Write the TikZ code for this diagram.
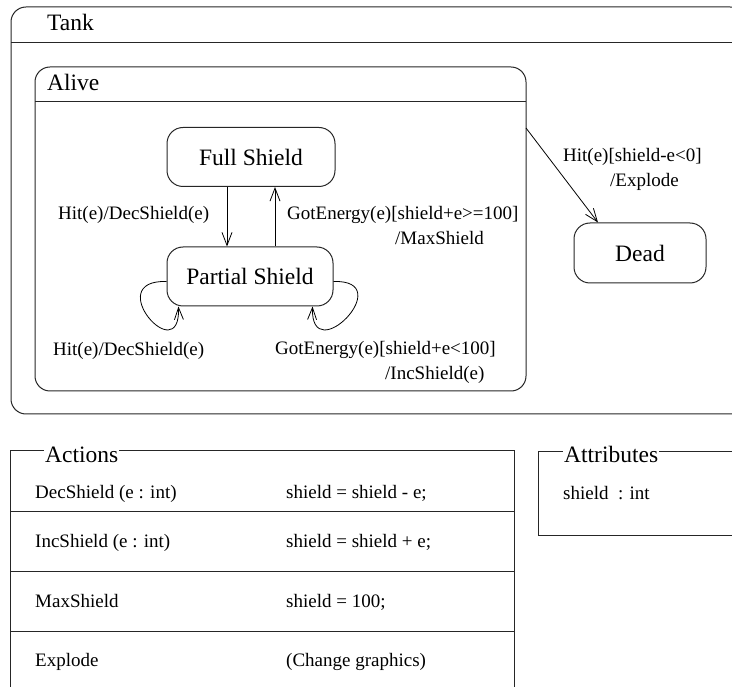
\documentclass[tikz,border=0pt]{standalone}
\usepackage{fontspec}
\setmainfont{Liberation Serif}
\usetikzlibrary{arrows.meta}
\begin{document}
\begin{tikzpicture}[x=1pt,y=-1pt,
  frame/.style={draw=black!85,line width=1pt},
  container/.style={frame,rectangle,rounded corners=15pt,inner sep=0pt,outer sep=0pt},
  state/.style={frame,rectangle,rounded corners=16pt,inner sep=0pt,
    font=\fontsize{23.5}{28}\selectfont},
  title/.style={anchor=base west,inner sep=0pt,font=\fontsize{23.5}{28}\selectfont},
  lbl/.style={anchor=base west,inner sep=0pt,align=left,font=\fontsize{19}{25}\selectfont},
  cell/.style={anchor=base west,inner sep=0pt,font=\fontsize{19}{24}\selectfont},
  trans/.style={draw=black,line width=0.8pt,-{Straight Barb[length=13pt,width=10pt]}},
  loop/.style={draw=black,line width=0.8pt,-{Straight Barb[length=12pt,width=9pt]}}]
\useasboundingbox (0,0) rectangle (732,687);
\clip (0,0) rectangle (732,687);

% Tank composite state
\node[container,minimum width=734pt,minimum height=407pt] (tank) at (378,210.5) {};
\draw[frame] ([yshift=-36pt]tank.north west) -- ([yshift=-36pt]tank.north east);
\node[title] (tanktitle) at (47,31) {Tank};

% Alive composite state
\node[container,minimum width=491pt,minimum height=324pt] (alive) at (280.5,229) {};
\draw[frame] ([yshift=-35pt]alive.north west) -- ([yshift=-35pt]alive.north east);
\node[title] (alivetitle) at (47,91) {Alive};

% Simple states
\node[state,minimum width=168pt,minimum height=59pt] (full) at (251,157) {Full Shield};
\node[state,minimum width=166pt,minimum height=59pt] (partial) at (250,276.5) {Partial Shield};
\node[state,minimum width=132pt,minimum height=60pt] (dead) at (640,253) {Dead};

% Transitions
\draw[trans] (full.south -| 227,0) -- (partial.north -| 227,0);
\draw[trans] (partial.north -| 275,0) -- (full.south -| 275,0);
\draw[trans] ([yshift=-61pt]alive.north east) -- ([xshift=-42pt]dead.north);
\draw[loop] ([yshift=-5pt]partial.west) .. controls +(-66,-2) and +(2,64) .. ([xshift=12pt]partial.south west);
\draw[loop] ([yshift=-5pt]partial.east) .. controls +(66,-2) and +(-2,64) .. ([xshift=-21pt]partial.south east);

% Transition labels (multi-line labels are anchored at their last line)
\node[lbl] (hitdown) at (58,220) {Hit(e)/DecShield(e)};
\node[lbl] (gotfull) at (287,245) {GotEnergy(e)[shield+e>=100]\\\hspace*{108pt}/MaxShield};
\node[lbl] (hitself) at (53,356) {Hit(e)/DecShield(e)};
\node[lbl] (gotself) at (275,380) {GotEnergy(e)[shield+e<100]\\\hspace*{110pt}/IncShield(e)};
\node[lbl] (hitdead) at (563,187) {Hit(e)[shield-e<0]\\\hspace*{47pt}/Explode};

% Actions table
\node[frame,rectangle,inner sep=0pt,outer sep=0pt,minimum width=504pt,minimum height=300pt] (actions) at (262,601) {};
\node[title,fill=white,inner xsep=1pt,inner ysep=0pt] (actionstitle) at (44,462) {Actions};
\draw[frame] (actions.west |- 0,511) -- (actions.east |- 0,511);
\draw[frame] (actions.west |- 0,571) -- (actions.east |- 0,571);
\draw[frame] (actions.west |- 0,631) -- (actions.east |- 0,631);
\node[cell] (a1) at (35,498) {DecShield (e : int)};
\node[cell] (b1) at (286,498) {shield = shield - e;};
\node[cell] (a2) at (35,547) {IncShield (e : int)};
\node[cell] (b2) at (286,547) {shield = shield + e;};
\node[cell] (a3) at (35,607) {MaxShield};
\node[cell] (b3) at (286,607) {shield = 100;};
\node[cell] (a4) at (35,666) {Explode};
\node[cell] (b4) at (286,666) {(Change graphics)};

% Attributes box
\node[frame,rectangle,inner sep=0pt,outer sep=0pt,minimum width=240pt,minimum height=83pt] (attrs) at (658,493.5) {};
\node[title,fill=white,inner xsep=1pt,inner ysep=0pt] (attrstitle) at (563,462) {Attributes};
\node[cell] (attr1) at (563,500) {shield~~: int};
\end{tikzpicture}
\end{document}
